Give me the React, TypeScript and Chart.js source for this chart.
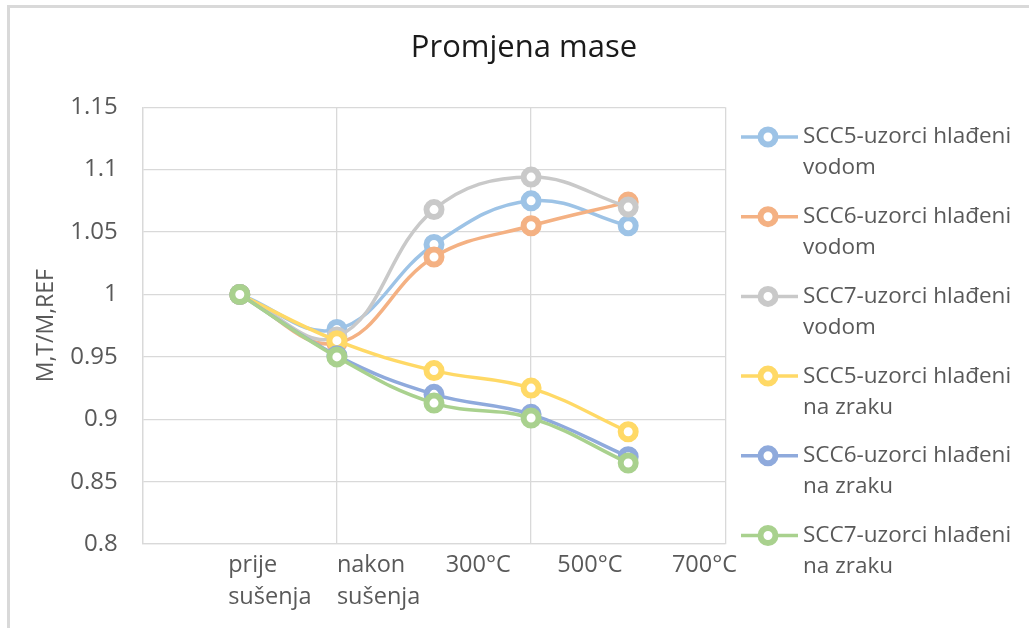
import React, { useEffect, useRef } from "react";
import { Chart, registerables } from "chart.js";

Chart.register(...registerables);

// ---------- data ----------
const categories: (string | string[])[] = [
  ["prije", "sušenja"],
  ["nakon", "sušenja"],
  "300°C",
  "500°C",
  "700°C",
];
const pointX = [1, 2, 3, 4, 5];
const labelX = [0.88, 2.0, 3.12, 4.27, 5.45];

const seriesNames = [
  ["SCC5-uzorci hlađeni", "vodom"],
  ["SCC6-uzorci hlađeni", "vodom"],
  ["SCC7-uzorci hlađeni", "vodom"],
  ["SCC5-uzorci hlađeni", "na zraku"],
  ["SCC6-uzorci hlađeni", "na zraku"],
  ["SCC7-uzorci hlađeni", "na zraku"],
];
const scc5Voda = [1, 0.972, 1.04, 1.075, 1.055];
const scc6Voda = [1, 0.961, 1.03, 1.055, 1.074];
const scc7Voda = [1, 0.966, 1.068, 1.094, 1.07];
const scc5Zrak = [1, 0.963, 0.939, 0.925, 0.89];
const scc6Zrak = [1, 0.951, 0.92, 0.904, 0.87];
const scc7Zrak = [1, 0.95, 0.913, 0.901, 0.865];
const seriesValues = [scc5Voda, scc6Voda, scc7Voda, scc5Zrak, scc6Zrak, scc7Zrak];
const seriesColors = ["#9DC3E6", "#F4B183", "#C9C9C9", "#FFD966", "#8FAADC", "#A9D18E"];

const yMin = 0.8;
const yMax = 1.15;
const yStep = 0.05;

const FONT = "'Open Sans', 'DejaVu Sans', sans-serif";
const TEXT = "#595959";
const GRID = "#D9D9D9";

const legendPlugin = {
  id: "customLegend",
  afterDraw(chart: any) {
    const ctx = chart.ctx;
    ctx.save();
    const x0 = 731;
    const x1 = 788;
    const mx = 758;
    const tx = 793;
    seriesNames.forEach((lines, i) => {
      const y = 129 + i * 79.7;
      const c = seriesColors[i];
      ctx.strokeStyle = c;
      ctx.lineWidth = 3.5;
      ctx.beginPath();
      ctx.moveTo(x0, y);
      ctx.lineTo(x1, y);
      ctx.stroke();
      ctx.beginPath();
      ctx.arc(mx, y, 7.5, 0, Math.PI * 2);
      ctx.fillStyle = "#ffffff";
      ctx.fill();
      ctx.lineWidth = 6;
      ctx.stroke();
      ctx.fillStyle = TEXT;
      ctx.font = `22.5px ${FONT}`;
      ctx.textAlign = "left";
      ctx.textBaseline = "middle";
      lines.forEach((t, j) => ctx.fillText(t, tx, y + j * 31));
    });
    ctx.restore();
  },
};

export default function App() {
  const ref = useRef<HTMLCanvasElement | null>(null);

  useEffect(() => {
    if (!ref.current) return;
    const datasets = seriesValues.map((vals, i) => ({
      label: seriesNames[i].join(" "),
      data: vals.map((v, k) => ({ x: pointX[k], y: v })),
      borderColor: seriesColors[i],
      backgroundColor: "#ffffff",
      pointBorderColor: seriesColors[i],
      pointBackgroundColor: "#ffffff",
      borderWidth: 3.5,
      pointRadius: 7.5,
      pointBorderWidth: 6,
      tension: 0.4,
      order: 6 - i,
      fill: false,
    }));

    const chart = new Chart(ref.current, {
      type: "line",
      data: { datasets },
      plugins: [legendPlugin],
      options: {
        animation: false,
        responsive: false,
        layout: { padding: { left: 0, right: 0, top: 0, bottom: 9 } },
        plugins: {
          legend: { display: false },
          tooltip: { enabled: false },
          title: {
            display: true,
            text: "Promjena mase",
            color: "#1a1a1a",
            font: { family: FONT, size: 31, weight: "normal" },
            padding: { top: 22, bottom: 40 },
          },
        },
        scales: {
          x: {
            type: "linear",
            min: 0,
            max: 6,
            position: "bottom",
            ticks: { display: false, stepSize: 2 },
            grid: { color: GRID, lineWidth: 1.3, drawTicks: false },
            border: { color: GRID, width: 1.3 },
          },
          xl: {
            type: "linear",
            min: 0,
            max: 6,
            position: "bottom",
            grid: { display: false, drawTicks: false },
            border: { display: false },
            afterBuildTicks: (s: any) => {
              s.ticks = labelX.map((v) => ({ value: v }));
            },
            ticks: {
              autoSkip: false,
              maxRotation: 0,
              minRotation: 0,
              align: "start",
              padding: 5,
              color: TEXT,
              font: { family: FONT, size: 23.5, lineHeight: 1.38 },
              callback: (_v: any, i: number) => categories[i],
            },
          },
          y: {
            type: "linear",
            min: yMin,
            max: yMax,
            afterFit: (s: any) => {
              s.width = 132.7;
            },
            afterBuildTicks: (s: any) => {
              const t = [];
              for (let v = yMin; v <= yMax + 1e-9; v += yStep) t.push({ value: Math.round(v * 100) / 100 });
              s.ticks = t;
            },
            ticks: {
              padding: 25,
              color: TEXT,
              font: { family: FONT, size: 24 },
              callback: (v: any) => String(Number(Number(v).toFixed(2))),
            },
            grid: { color: GRID, lineWidth: 1.3, drawTicks: false },
            border: { color: GRID, width: 1.3 },
            title: {
              display: true,
              text: "M,T/M,REF",
              color: TEXT,
              font: { family: FONT, size: 23 },
              padding: { top: 23, bottom: 0 },
            },
          },
          legendSpace: {
            type: "linear",
            position: "right",
            display: true,
            grid: { display: false, drawTicks: false },
            border: { display: false },
            ticks: { display: false },
            afterFit: (s: any) => {
              s.width = 312.7;
            },
          },
        },
      },
    });
    return () => chart.destroy();
  }, []);

  return (
    <div style={{ position: "fixed", left: 0, top: 0, width: 1029, height: 628, overflow: "hidden", background: "#fff" }}>
      <div
        style={{
          position: "absolute",
          left: 7,
          top: 5,
          width: 1040,
          height: 640,
          borderTop: `3px solid ${GRID}`,
          borderLeft: `3px solid ${GRID}`,
        }}
      >
        <canvas ref={ref} width={1028} height={620} style={{ display: "block", width: 1028, height: 620 }} />
      </div>
    </div>
  );
}
